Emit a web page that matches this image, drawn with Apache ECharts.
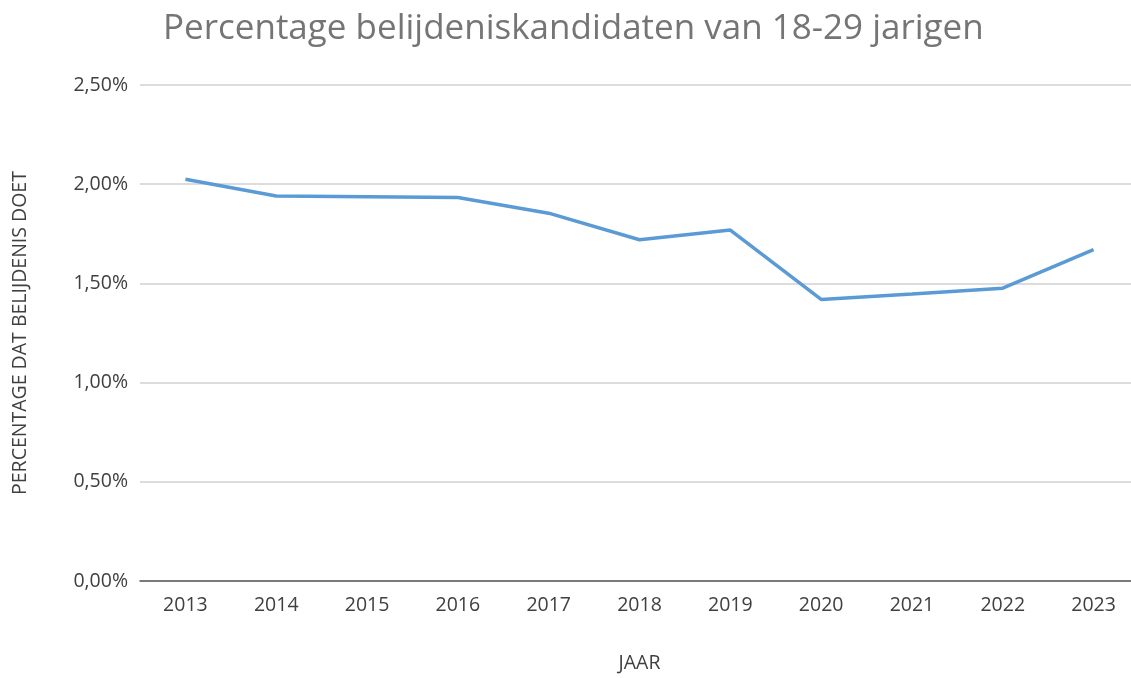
<!DOCTYPE html>
<html>
<head>
<meta charset="utf-8">
<script src="https://cdn.jsdelivr.net/npm/echarts@6/dist/echarts.min.js"></script>
<style>
  html, body { margin: 0; padding: 0; background: #fff; overflow: hidden; }
  #chart { width: 1139px; height: 678px; }
</style>
</head>
<body>
<div id="chart"></div>
<script>
  // jaren en percentages (in %)
  const years = ["2013", "2014", "2015", "2016", "2017", "2018", "2019", "2020", "2021", "2022", "2023"];
  const percentages = [2.025, 1.941, 1.937, 1.933, 1.854, 1.720, 1.769, 1.419, 1.447, 1.476, 1.670];

  const font = "'Open Sans', 'Noto Sans', sans-serif";
  const myChart = echarts.init(document.getElementById("chart"));

  const option = {
    animation: false,
    title: {
      text: "Percentage belijdeniskandidaten van 18-29 jarigen",
      left: 158,
      top: 7,
      textStyle: {
        color: "#757575",
        fontSize: 35,
        fontWeight: "normal",
        fontFamily: font,
      },
    },
    grid: {
      left: 140,
      right: 0,
      top: 85,
      bottom: 92,
    },
    xAxis: {
      type: "category",
      data: years,
      name: "JAAR",
      nameLocation: "middle",
      nameGap: 72,
      nameTextStyle: { color: "#404040", fontSize: 19.5, fontFamily: font },
      axisLine: { lineStyle: { color: "#595959", width: 1.5 } },
      axisTick: { show: false },
      axisLabel: { color: "#404040", fontSize: 19.5, fontFamily: font, margin: 14 },
    },
    yAxis: {
      type: "value",
      min: 0,
      max: 2.5,
      interval: 0.5,
      name: "PERCENTAGE DAT BELIJDENIS DOET",
      nameLocation: "middle",
      nameGap: 110,
      nameTextStyle: { color: "#404040", fontSize: 19.5, fontFamily: font },
      axisLine: { show: false },
      axisTick: { show: false },
      axisLabel: {
        color: "#404040",
        fontSize: 19.5,
        fontFamily: font,
        margin: 12,
        formatter: function (v) {
          return v.toFixed(2).replace(".", ",") + "%";
        },
      },
      splitLine: { lineStyle: { color: "#d0d0d0", width: 1.5 } },
    },
    series: [
      {
        type: "line",
        data: percentages,
        showSymbol: false,
        lineStyle: { color: "#5B9BD5", width: 3.5 },
        itemStyle: { color: "#5B9BD5" },
      },
    ],
  };
  myChart.setOption(option);
</script>
</body>
</html>
